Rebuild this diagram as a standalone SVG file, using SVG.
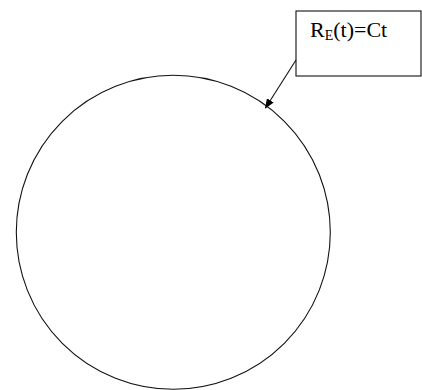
<svg xmlns="http://www.w3.org/2000/svg" width="422" height="390" viewBox="0 0 422 390">
<style>
.ln{fill:none;stroke:#111;stroke-width:1.1}
.t{font-family:"Liberation Serif","Times New Roman",serif;font-size:22px;fill:#000}
</style>
<defs>
<marker id="ah" markerWidth="10" markerHeight="8" refX="9" refY="4" orient="auto" markerUnits="userSpaceOnUse">
<path d="M0,0 L10,4 L0,8 Z" fill="#000"/>
</marker>
</defs>
<rect width="422" height="390" fill="#fff"/>
<g id="circle">
<circle class="ln" cx="173.3" cy="232.3" r="157"/>
</g>
<g id="label">
<rect class="ln" x="296" y="11" width="125" height="65"/>
<text class="t" x="310" y="37">R<tspan font-size="14" dy="3">E</tspan><tspan dy="-3">(t)=Ct</tspan></text>
</g>
<g id="connectors">
<line class="ln" x1="296" y1="60" x2="265.5" y2="108" marker-end="url(#ah)"/>
</g>
</svg>
